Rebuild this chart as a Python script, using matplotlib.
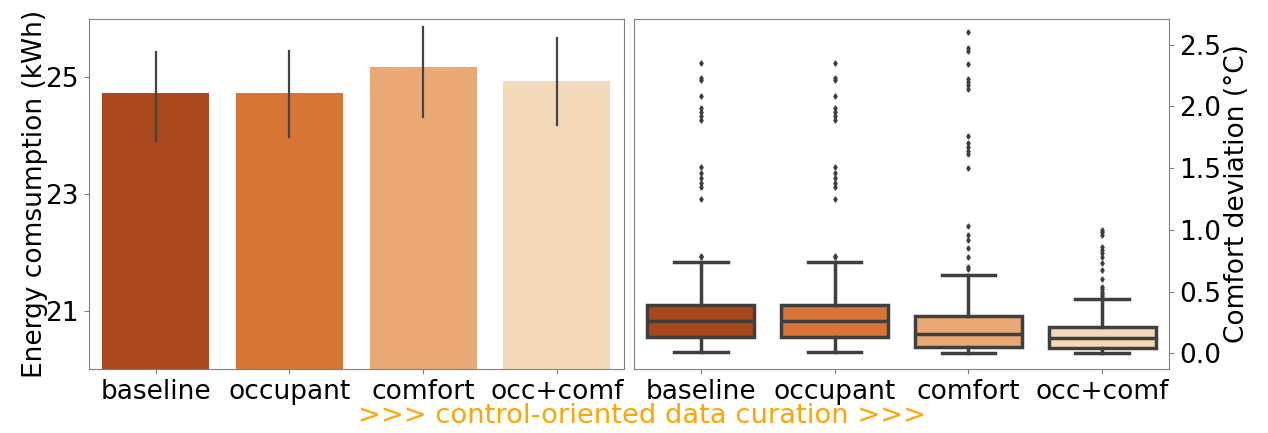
import matplotlib
matplotlib.use("Agg")
import matplotlib.pyplot as plt

# categories and colours
labels = ["baseline", "occupant", "comfort", "occ+comf"]
colors = ["#a9491b", "#d77537", "#eaa974", "#f3d8ba"]

# energy consumption (kWh): mean with CI limits
energy_mean = [24.73, 24.73, 25.18, 24.93]
energy_lo = [23.91, 23.98, 24.32, 24.18]
energy_hi = [25.43, 25.45, 25.85, 25.67]

# comfort deviation (degC) box stats
box_q1 = [0.135, 0.135, 0.054, 0.045]
box_med = [0.265, 0.265, 0.154, 0.12]
box_q3 = [0.39, 0.39, 0.30, 0.21]
box_whislo = [0.01, 0.01, 0.0, 0.0]
box_whishi = [0.74, 0.74, 0.63, 0.44]
box_fliers = [
    [0.78, 0.79, 1.25, 1.35, 1.38, 1.42, 1.46, 1.51, 1.89, 1.92, 1.95, 1.99, 2.08, 2.21, 2.23, 2.35],
    [0.78, 0.79, 1.25, 1.35, 1.38, 1.42, 1.46, 1.51, 1.89, 1.92, 1.95, 1.99, 2.08, 2.21, 2.23, 2.35],
    [0.68, 0.70, 0.78, 0.85, 0.92, 0.96, 1.03, 1.50, 1.61, 1.64, 1.67, 1.70, 1.76, 2.14, 2.17, 2.20, 2.22, 2.34, 2.45, 2.47, 2.60],
    [0.46, 0.48, 0.50, 0.52, 0.54, 0.60, 0.675, 0.73, 0.78, 0.81, 0.84, 0.86, 0.96, 0.98, 1.0],
]

plt.rcParams["font.size"] = 19
fig = plt.figure(figsize=(12.68, 4.33), dpi=100)
ax1 = fig.add_axes([0.070, 0.147, 0.422, 0.810])
ax2 = fig.add_axes([0.500, 0.147, 0.422, 0.810])

x = list(range(len(labels)))
ax1.bar(x, energy_mean, width=0.8, color=colors)
for i in x:
    ax1.plot([i, i], [energy_lo[i], energy_hi[i]], color="#444444", lw=1.6)
ax1.set_ylim(20, 26)
ax1.set_xlim(-0.5, 3.5)
ax1.set_yticks([21, 23, 25])
ax1.set_xticks(x)
ax1.set_xticklabels(labels)
ax1.set_ylabel("Energy comsumption (kWh)", labelpad=-2)

stats = []
for i, lab in enumerate(labels):
    stats.append({"label": lab, "q1": box_q1[i], "med": box_med[i], "q3": box_q3[i],
                  "whislo": box_whislo[i], "whishi": box_whishi[i], "fliers": box_fliers[i]})
lc = "#3f3f3f"
bp = ax2.bxp(stats, positions=x, widths=0.8, patch_artist=True,
             boxprops=dict(edgecolor=lc, linewidth=2.5),
             medianprops=dict(color=lc, linewidth=2.5),
             whiskerprops=dict(color=lc, linewidth=2.5),
             capprops=dict(color=lc, linewidth=2.5),
             flierprops=dict(marker="d", markersize=2.6, markerfacecolor=lc,
                             markeredgecolor=lc))
for patch, c in zip(bp["boxes"], colors):
    patch.set_facecolor(c)
ax2.set_xlim(-0.5, 3.5)
ax2.set_ylim(-0.13, 2.71)
ax2.set_yticks([0.0, 0.5, 1.0, 1.5, 2.0, 2.5])
ax2.yaxis.tick_right()
ax2.yaxis.set_label_position("right")
ax2.set_ylabel("Comfort deviation (°C)", labelpad=2)
ax2.set_xticks(x)
ax2.set_xticklabels(labels)

for ax in (ax1, ax2):
    for sp in ax.spines.values():
        sp.set_color("#808080")
    ax.tick_params(colors="#808080", labelcolor="black", length=3.5)

fig.text(0.506, 0.04, ">>> control-oriented data curation >>>", color="orange",
         ha="center", va="center", fontsize=19.7)

fig.savefig("out.png", dpi=100)
